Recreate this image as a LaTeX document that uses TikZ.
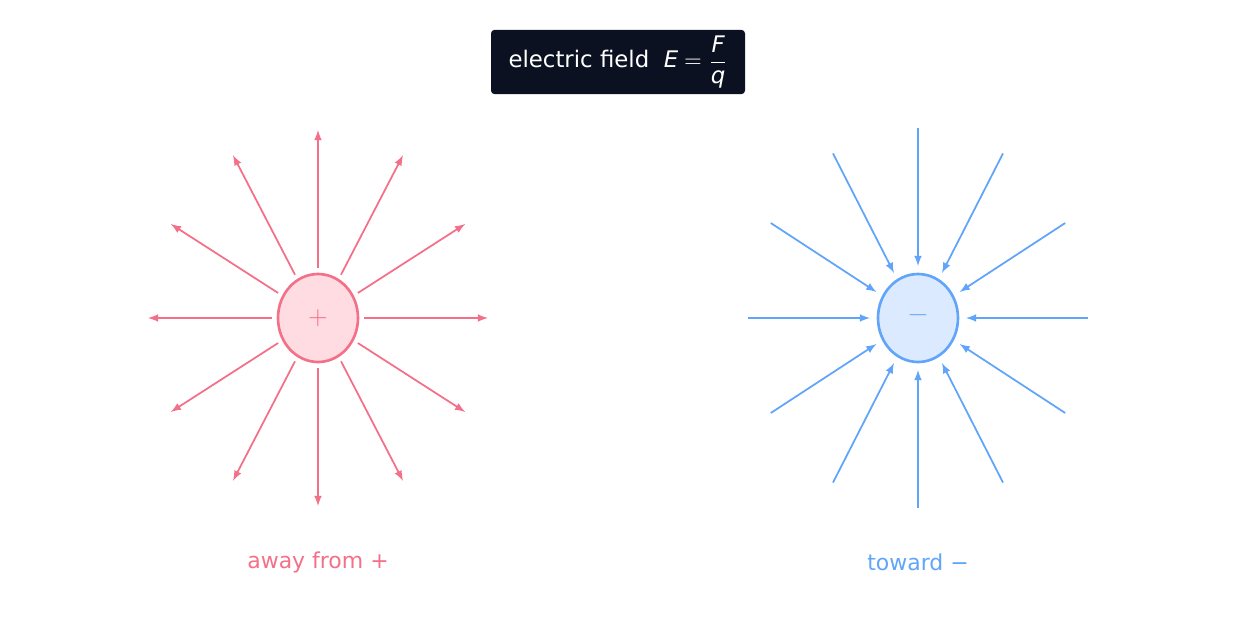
\documentclass[tikz,border=0pt]{standalone}
\usepackage{amsmath}
\usepackage{fontspec}
\setmainfont{DejaVu Sans}
\usepackage{unicode-math}
\setmathfont{Latin Modern Math}
\setmathfont[range=it]{DejaVu Sans Oblique}
\usepackage{tikz}
\usetikzlibrary{shapes.geometric,calc}
\definecolor{posred}{HTML}{F47088}
\definecolor{posfill}{HTML}{FFDCE2}
\definecolor{negblue}{HTML}{60A5FA}
\definecolor{negfill}{HTML}{DBEAFE}
\definecolor{titlebg}{HTML}{0B1120}
\begin{document}
\begin{tikzpicture}[x=0.02cm,y=-0.02cm,>=latex]
          \tikzstyle{charge} = [ellipse, draw, line width=1.5pt, minimum width=80*0.02cm, minimum height=88*0.02cm, inner sep=0pt, font=\Large]
          \tikzstyle{field} = [->, line width=1pt]
        \useasboundingbox (0,0) rectangle (1235,636);
        \node[fill=titlebg, text=white, rounded corners=2pt, minimum width=254*0.02cm, minimum height=63*0.02cm, font=\fontsize{13}{15}\selectfont] (title) at (618,62) {electric field\ \ $E=\dfrac{F}{q}$};
        \node[charge, draw=posred, fill=posfill, text=posred] (pos) at (318,318) {$+$};
        \node[charge, draw=negblue, fill=negfill, text=negblue] (neg) at (918,318) {$-$};
        \begin{scope}[posred]
          \foreach \a in {0,30,...,330}
            \draw[field] ($(pos)+(\a:46 and 50)$) -- ($(pos)+(\a:170 and 188)$);
        \end{scope}
        \begin{scope}[negblue]
          \foreach \a in {0,30,...,330}
            \draw[field] ($(neg)+(\a:170 and 190)$) -- ($(neg)+(\a:48 and 52)$);
        \end{scope}
        \node[text=posred, font=\fontsize{12.5}{15}\selectfont] (awaylbl) at (318,562) {away from +};
        \node[text=negblue, font=\fontsize{12.5}{15}\selectfont] (towardlbl) at (918,562) {toward −};
      \end{tikzpicture}
\end{document}
